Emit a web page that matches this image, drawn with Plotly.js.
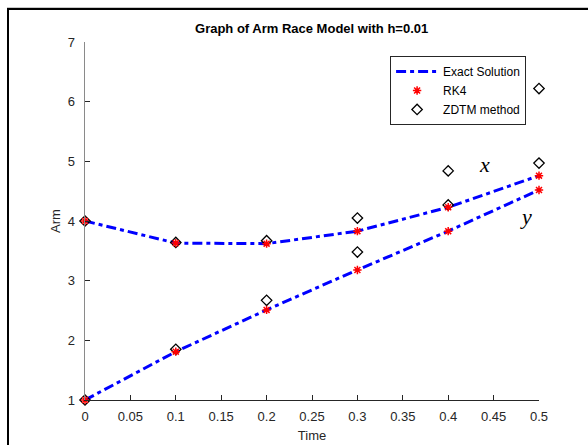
<!DOCTYPE html>
<html><head><meta charset="utf-8">
<script src="https://cdn.plot.ly/plotly-3.0.1.min.js"></script>
<style>
html,body{margin:0;padding:0;background:#fff;}
#wrap{position:relative;width:588px;height:445px;overflow:hidden;}
#plot{position:absolute;left:0;top:0;width:588px;height:445px;}
#gline{position:absolute;left:7px;top:7px;width:581px;height:1px;background:#c8c8c8;pointer-events:none;}
#frame{position:absolute;left:7px;top:8px;width:600px;height:460px;border-left:2px solid #000;border-top:2px solid #000;pointer-events:none;}
</style></head>
<body>
<div id="wrap"><div id="plot"></div><div id="gline"></div><div id="frame"></div></div>
<script>
const time = [0, 0.1, 0.2, 0.3, 0.4, 0.5];
const exactX = [4.00, 3.63, 3.62, 3.83, 4.23, 4.76];
const exactY = [1.00, 1.81, 2.51, 3.18, 3.83, 4.52];
const rk4X = [4.00, 3.63, 3.62, 3.83, 4.23, 4.76];
const rk4Y = [1.00, 1.81, 2.51, 3.18, 3.83, 4.52];
const zdtmX = [4.00, 3.64, 3.67, 4.05, 4.84, 6.22];
const zdtmY = [1.00, 1.85, 2.67, 3.48, 4.27, 4.97];
const xTicks = [0, 0.05, 0.1, 0.15, 0.2, 0.25, 0.3, 0.35, 0.4, 0.45, 0.5];
const yTicks = [1, 2, 3, 4, 5, 6, 7];

const lineStyle = {color: '#0000ff', width: 3, dash: '10px,4px,4px,4px'};
const zdtmMarker = {symbol: 'diamond-open', size: 8, color: '#000', line: {color: '#000', width: 1.3}};
const rkMarker = {symbol: 'asterisk-open', size: 7, color: '#ff0000', line: {color: '#ff0000', width: 1.5}};

const traces = [
  {x: time, y: exactX, mode: 'lines', name: 'Exact Solution', line: lineStyle, legendgroup: 'e', cliponaxis: false},
  {x: time, y: exactY, mode: 'lines', name: 'Exact Solution', line: lineStyle, legendgroup: 'e', showlegend: false, cliponaxis: false},
  {x: time, y: zdtmX, mode: 'markers', name: 'ZDTM method', marker: zdtmMarker, legendgroup: 'z', showlegend: false, cliponaxis: false},
  {x: time, y: zdtmY, mode: 'markers', name: 'ZDTM method', marker: zdtmMarker, legendgroup: 'z', showlegend: false, cliponaxis: false},
  {x: time, y: rk4X, mode: 'markers', name: 'RK4', marker: rkMarker, legendgroup: 'r', cliponaxis: false},
  {x: time, y: rk4Y, mode: 'markers', name: 'RK4', marker: rkMarker, legendgroup: 'r', showlegend: false, cliponaxis: false},
  {x: [null], y: [null], mode: 'markers', name: 'ZDTM method', marker: zdtmMarker, legendgroup: 'z2'}
];

const font = {family: 'Liberation Sans, Arial, sans-serif', size: 13, color: '#262626'};
const layout = {
  width: 588, height: 445,
  margin: {l: 85, r: 49, t: 42, b: 45},
  paper_bgcolor: '#fff', plot_bgcolor: '#fff',
  font: font,
  showlegend: true,
  title: {text: '<b>Graph of Arm Race Model with h=0.01</b>', font: {family: 'Liberation Sans, Arial, sans-serif', size: 13, color: '#000'}, x: 0.53, xanchor: 'center', y: 0.935, yanchor: 'middle'},
  xaxis: {range: [0, 0.5], tickvals: xTicks, ticktext: xTicks.map(String), ticks: 'inside', ticklen: 5, tickcolor: '#262626',
    showline: true, linecolor: '#262626', linewidth: 1, showgrid: false, zeroline: false, ticklabelstandoff: 4,
    title: {text: 'Time', font: font, standoff: 8}, tickfont: font},
  yaxis: {range: [1, 7], tickvals: yTicks, ticks: 'inside', ticklen: 5, tickcolor: '#262626',
    showline: true, linecolor: '#8a8a8a', linewidth: 1.5, showgrid: false, zeroline: false, ticklabelstandoff: 6,
    title: {text: 'Arm', font: font, standoff: 4}, tickfont: font},
  legend: {x: 0.672, y: 0.961, xanchor: 'left', yanchor: 'top', bgcolor: '#fff', bordercolor: '#262626', borderwidth: 1,
    font: {family: 'Liberation Sans, Arial, sans-serif', size: 12, color: '#000'}, tracegroupgap: 0, itemwidth: 42},
  annotations: [
    {x: 0.44, y: 4.95, xref: 'x', yref: 'y', text: '<i>x</i>', showarrow: false, font: {family: 'Liberation Serif, Times New Roman, serif', size: 22, color: '#000'}},
    {x: 0.486, y: 4.08, xref: 'x', yref: 'y', text: '<i>y</i>', showarrow: false, font: {family: 'Liberation Serif, Times New Roman, serif', size: 22, color: '#000'}}
  ]
};
Plotly.newPlot('plot', traces, layout, {displayModeBar: false, staticPlot: true});
</script>
</body></html>
